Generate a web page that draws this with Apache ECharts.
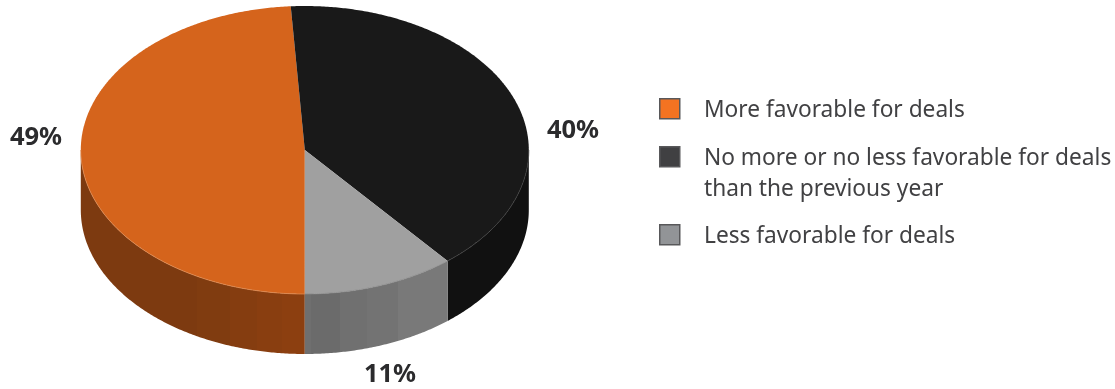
<!DOCTYPE html>
<html>
<head>
<meta charset="utf-8">
<style>html,body{margin:0;padding:0;background:#fff}#c{width:1115px;height:389px}</style>
<script src="https://cdn.jsdelivr.net/npm/echarts@6/dist/echarts.min.js"></script>
</head>
<body>
<div id="c"></div>
<script>
// Data
const categories = ['More favorable for deals', 'No more or no less favorable for deals\nthan the previous year', 'Less favorable for deals'];
const values = [49, 40, 11];

// Styles
const topColors = ['#d5641c', '#191919', '#a0a0a0'];
const swatchColors = ['#f47321', '#404042', '#929497'];
const rimColors = ['#e08a50', '#3c3c3c', '#8a8a8a'];
const wallBands = [
  [[81, '#7d3a10'], [197, '#803c10'], [230, '#853d10'], [257, '#893e10'], [282, '#8c3f10'], [304, '#8c3f10']],
  [[447, '#111111'], [530, '#111111']],
  [[303, '#6f6f6f'], [311, '#6b6b6b'], [340, '#707070'], [367, '#737373'], [398, '#797979'], [448, '#797979']]
];
const labelCenters = [[36, 137.5], [573, 130.5], [390, 375]];
const legendRows = [[659, 98, 704, 95], [659, 146, 704, 143], [659, 224, 704, 221]];
const pie = { cx: 304.8, cy: 150, rx: 224, ry: 144, depth: 60, startDeg: 180 };
const legendFont = '"Noto Sans", sans-serif';
const labelFont = '"Noto Sans", sans-serif';

const total = values.reduce((a, b) => a + b, 0);
function pt(deg, dy) {
  const r = deg * Math.PI / 180;
  return [pie.cx + pie.rx * Math.sin(r), pie.cy - pie.ry * Math.cos(r) + (dy || 0)];
}
function arc(a, b, dy) {
  const out = [], n = Math.max(2, Math.ceil(Math.abs(b - a) * 2));
  for (let i = 0; i <= n; i++) out.push(pt(a + (b - a) * i / n, dy));
  return out;
}
function gradient(bands) {
  const x0 = bands[0][0], x1 = bands[bands.length - 1][0], stops = [];
  bands.forEach((b, i) => {
    const o = (b[0] - x0) / (x1 - x0);
    if (i > 0) stops.push({ offset: o, color: bands[i - 1][1] });
    stops.push({ offset: o, color: b[1] });
  });
  return { type: 'linear', x: x0, y: 0, x2: x1, y2: 0, global: true, colorStops: stops };
}

function renderItem(params, api) {
  const i = params.dataIndex;
  const prior = values.slice(0, i).reduce((a, b) => a + b, 0);
  const a0 = pie.startDeg + prior / total * 360;
  const a1 = a0 + api.value(0) / total * 360;
  const children = [];
  // visible outer wall: the part of the slice between 90 and 270 degrees
  [[a0 - 360, a1 - 360], [a0, a1]].forEach(([p, q]) => {
    const s = Math.max(p, 90), e = Math.min(q, 270);
    if (e > s) {
      children.push({
        type: 'polygon',
        shape: { points: arc(s, e, 0).concat(arc(e, s, pie.depth)) },
        style: { fill: gradient(wallBands[i]), stroke: null }
      });
      children.push({
        type: 'polyline',
        z2: 5,
        shape: { points: arc(s, e, 0) },
        style: { fill: null, stroke: rimColors[i], lineWidth: 0.8 }
      });
    }
  });
  children.unshift({
    type: 'polygon',
    z2: 2,
    shape: { points: [[pie.cx, pie.cy]].concat(arc(a0, a1, 0)) },
    style: { fill: topColors[i], stroke: null }
  });
  children.push({
    type: 'text',
    z2: 6,
    style: {
      text: api.value(0) + '%',
      x: labelCenters[i][0], y: labelCenters[i][1],
      align: 'center', verticalAlign: 'middle',
      fill: '#2b2b2d',
      font: 'bold 25.5px ' + labelFont
    }
  });
  return { type: 'group', children };
}

const legendGraphics = [];
categories.forEach((name, i) => {
  const r = legendRows[i];
  legendGraphics.push({
    type: 'rect', left: r[0], top: r[1],
    shape: { width: 20, height: 20 },
    style: { fill: swatchColors[i], stroke: '#58585a', lineWidth: 1.5 }
  });
  legendGraphics.push({
    type: 'text', left: r[2], top: r[3],
    style: { text: name, fill: '#414143', font: '22.7px ' + legendFont, lineHeight: 31 }
  });
});

const chart = echarts.init(document.getElementById('c'), null, { renderer: 'canvas' });
chart.setOption({
  animation: false,
  backgroundColor: '#fff',
  graphic: legendGraphics,
  series: [{
    type: 'custom',
    coordinateSystem: 'none',
    renderItem,
    data: values.map((v, i) => ({ name: categories[i], value: [v] }))
  }]
});
</script>
</body>
</html>
